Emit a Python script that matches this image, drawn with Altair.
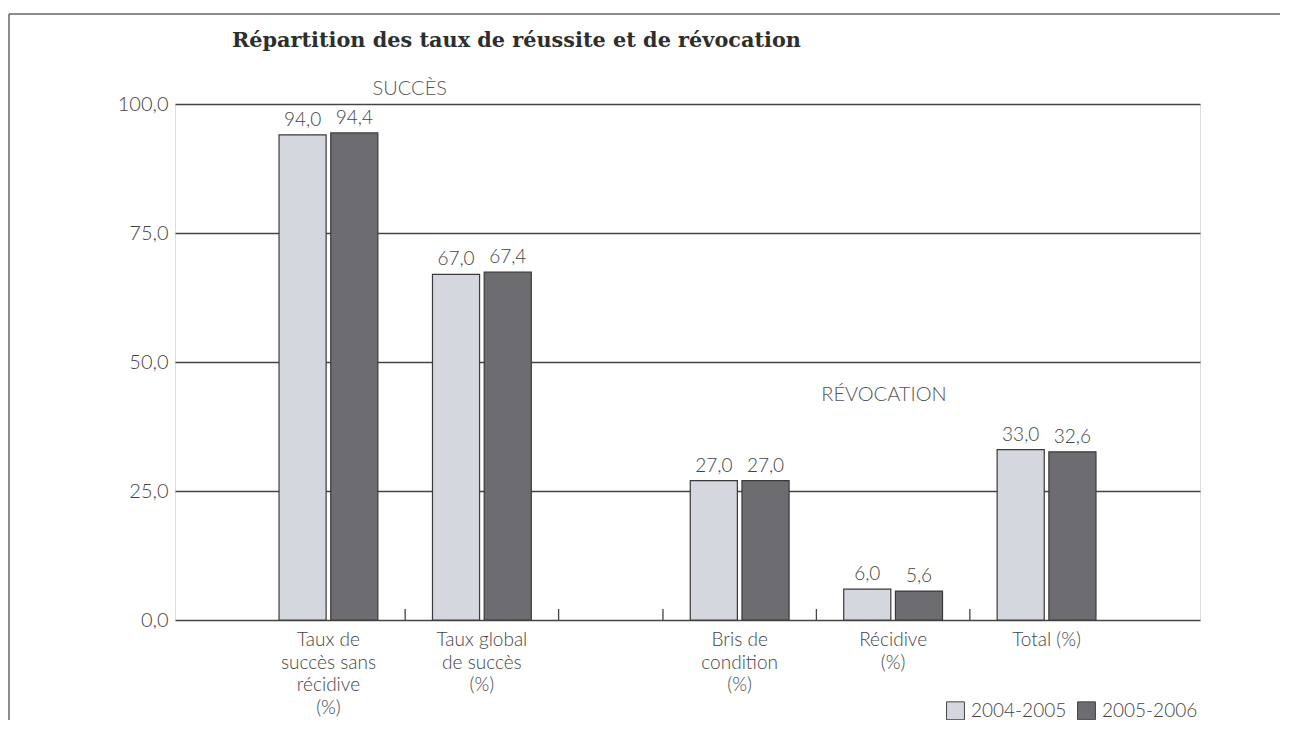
import altair as alt
import pandas as pd

title_text = "Répartition des taux de réussite et de révocation"
categories = [
    "Taux de\nsuccès sans\nrécidive\n(%)",
    "Taux global\nde succès\n(%)",
    "Bris de\ncondition\n(%)",
    "Récidive\n(%)",
    "Total (%)",
]
groups = ["SUCCÈS", "SUCCÈS", "RÉVOCATION", "RÉVOCATION", "RÉVOCATION"]
years = ["2004-2005", "2005-2006"]
v2004 = [94.0, 67.0, 27.0, 6.0, 33.0]
v2005 = [94.4, 67.4, 27.0, 5.6, 32.6]
y_ticks = [0, 25, 50, 75, 100]

# ---- layout helpers (slot positions on the x scale) ----
W, H = 1025, 516
GAP = 0.68
BAR_W = 0.307
INNER = 0.015
pos = []
for i in range(len(categories)):
    extra = GAP if groups[i] != groups[0] else 0
    pos.append(1 + i + extra)
xmax = pos[-1] + 1

ticks = []
for i in range(len(pos) - 1):
    if groups[i] != groups[i + 1]:
        ticks += [pos[i] + 0.5, pos[i + 1] - 0.5]
    else:
        ticks.append((pos[i] + pos[i + 1]) / 2)

def fmt(v):
    return f"{v:.1f}".replace(".", ",")

rows = []
for i, c in enumerate(categories):
    for j, (yr, vals) in enumerate(zip(years, [v2004, v2005])):
        if j == 0:
            x0, x1 = pos[i] - INNER - BAR_W, pos[i] - INNER
        else:
            x0, x1 = pos[i] + INNER, pos[i] + INNER + BAR_W
        rows.append(dict(cat=c, year=yr, x0=x0, x1=x1, xm=(x0 + x1) / 2,
                         value=vals[i], label=fmt(vals[i])))
bars_df = pd.DataFrame(rows)
cat_df = pd.DataFrame(dict(cat=categories, pos=pos))
tick_df = pd.DataFrame(dict(t=ticks))

sec_names = ["SUCCÈS", "RÉVOCATION"]
sec_x = []
for s in sec_names:
    ps = [p for p, g in zip(pos, groups) if g == s]
    sec_x.append(sum(ps) / len(ps))
sec_x[0] += 0.03
sec_x[1] -= 0.06
sec_df = pd.DataFrame(dict(name=sec_names, x=sec_x, y=[102.9, 43.6]))
one = pd.DataFrame(dict(a=[0]))

LIGHT = "#d4d7dd"
DARK = "#6d6d71"
INK = "#444444"
FONT = "Lato"
FW = 300

xs = alt.Scale(domain=[0, xmax], nice=False, zero=False)
ys = alt.Scale(domain=[0, 100], nice=False)

bars = alt.Chart(bars_df).mark_bar(stroke="#3a3a3a", strokeWidth=1.2).encode(
    x=alt.X("x0:Q", scale=xs, axis=None),
    x2="x1:Q",
    y=alt.Y("value:Q", scale=ys, axis=alt.Axis(
        values=y_ticks, grid=True, gridColor=INK, gridWidth=1.3, gridOpacity=1,
        domain=False, ticks=False, labelPadding=7, labelFont=FONT,
        labelFontSize=20, labelFontWeight=FW, labelColor=INK, title=None,
        labelExpr="replace(format(datum.value, '.1f'), '.', ',')")),
    y2=alt.datum(0),
    color=alt.Color("year:N", scale=alt.Scale(domain=years, range=[LIGHT, DARK]),
                    legend=alt.Legend(title=None, orient="none", legendX=771, legendY=597,
                                      direction="horizontal", symbolType="square",
                                      symbolSize=320, symbolStrokeColor="#444",
                                      symbolStrokeWidth=1, labelFont=FONT,
                                      labelFontWeight=FW,
                                      labelFontSize=19, labelColor=INK,
                                      columnPadding=8, labelOffset=6)),
)

vlabels = alt.Chart(bars_df).mark_text(
    baseline="bottom", dy=-5, font=FONT, fontWeight=FW, fontSize=19, color=INK
).encode(x=alt.X("xm:Q", scale=xs), y=alt.Y("value:Q", scale=ys), text="label:N")

xticks = alt.Chart(tick_df).mark_rule(color=INK, strokeWidth=1.3).encode(
    x=alt.X("t:Q", scale=xs), y=alt.value(H), y2=alt.value(H - 11))

cat_labels = alt.Chart(cat_df).mark_text(
    baseline="top", align="center", lineBreak="\n", lineHeight=22.5,
    font=FONT, fontWeight=FW, fontSize=19, color=INK
).encode(x=alt.X("pos:Q", scale=xs), y=alt.value(H + 11), text="cat:N")

sec_labels = alt.Chart(sec_df).mark_text(
    baseline="middle", align="center", font=FONT, fontWeight=FW, fontSize=20,
    color="#555555"
).encode(x=alt.X("x:Q", scale=xs), y=alt.Y("y:Q", scale=ys), text="name:N")

title = alt.Chart(one).mark_text(
    align="left", baseline="alphabetic", font="DejaVu Serif", fontWeight="bold",
    fontSize=20.8, color="#2e2e2e", text=title_text
).encode(x=alt.value(57), y=alt.value(-57))

frame_top = alt.Chart(one).mark_rule(color="#666666", strokeWidth=1.5).encode(
    x=alt.value(-166), x2=alt.value(1200), y=alt.value(-90))
frame_left = alt.Chart(one).mark_rule(color="#666666", strokeWidth=1.5).encode(
    x=alt.value(-166), y=alt.value(-90), y2=alt.value(640))

chart = alt.layer(
    bars, vlabels, xticks, cat_labels, sec_labels, title, frame_top, frame_left
).properties(
    width=W, height=H,
    padding={"left": 167, "top": 96, "right": 80, "bottom": 100},
    autosize=alt.AutoSizeParams(type="none"),
).configure_view(stroke="#555555", strokeWidth=1.3).configure(background="white")

chart.save("out.html", embed_options={"renderer": "svg", "actions": False})
